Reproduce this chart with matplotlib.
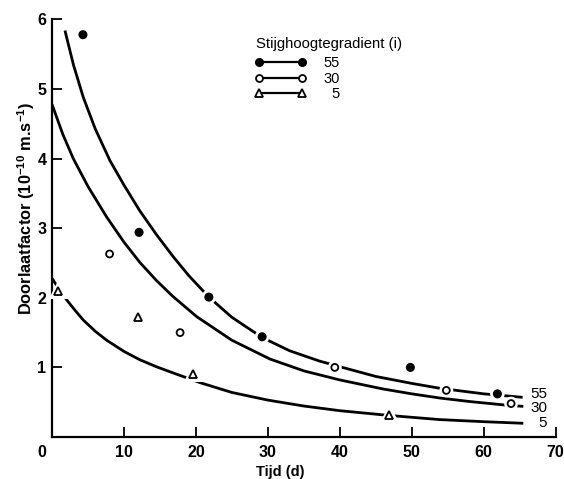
import matplotlib
matplotlib.use("Agg")
import matplotlib.pyplot as plt
from matplotlib.lines import Line2D
from matplotlib.transforms import ScaledTranslation
import matplotlib.patheffects as pe

plt.rcParams['font.family'] = ['Liberation Sans', 'DejaVu Sans']

# Measured points (Tijd in d, Doorlaatfactor in 1e-10 m/s)
t55 = [4.3, 12.1, 21.8, 29.2, 49.8, 61.9]
k55 = [5.78, 2.94, 2.01, 1.44, 1.00, 0.62]
t30 = [8.0, 17.8, 39.3, 54.8, 63.8]
k30 = [2.63, 1.50, 1.00, 0.67, 0.48]
t5 = [0.8, 12.0, 19.6, 46.8]
k5 = [2.10, 1.72, 0.905, 0.31]

# Fitted curves, values
c55_t = [1.8, 3.0, 4.35, 6.0, 8.06, 10.0, 12.2, 14.5, 16.85, 19.0, 21.8, 25.0, 29.2, 33.0,
         37.2, 40.0, 45.0, 50.0, 53.9, 60.0, 65.4]
c55_k = [5.84, 5.34, 4.88, 4.43, 3.97, 3.62, 3.25, 2.91, 2.59, 2.32, 2.01, 1.72, 1.43, 1.24,
         1.09, 1.01, 0.87, 0.77, 0.70, 0.62, 0.57]
c30_t = [0.0, 1.5, 2.96, 5.0, 7.6, 10.0, 12.2, 14.5, 16.8, 20.1, 25.0, 30.3, 35.0, 40.0,
         46.0, 50.0, 53.9, 58.0, 62.9, 65.5]
c30_k = [4.78, 4.35, 4.00, 3.60, 3.16, 2.80, 2.51, 2.25, 2.02, 1.73, 1.39, 1.12, 0.95, 0.82,
         0.69, 0.62, 0.56, 0.51, 0.46, 0.44]
c5_t = [0.0, 1.0, 2.04, 3.2, 4.35, 6.0, 7.6, 10.0, 12.2, 14.5, 16.85, 20.6, 25.0, 30.0,
        35.0, 40.0, 46.8, 53.9, 60.0, 65.5]
c5_k = [2.28, 2.12, 1.97, 1.82, 1.68, 1.52, 1.39, 1.23, 1.11, 1.01, 0.92, 0.78, 0.64, 0.53,
        0.445, 0.378, 0.31, 0.25, 0.22, 0.197]

labels = ['55', '30', '5']
label_y = [0.62, 0.41, 0.20]
xticks = [0, 10, 20, 30, 40, 50, 60, 70]
yticks = [1, 2, 3, 4, 5, 6]

fig = plt.figure(figsize=(5.64, 4.79), dpi=100)
ax = fig.add_axes([52/564, 42/479, 503.7/564, 417.6/479])

lw = 2.0
for ct, ck in [(c55_t, c55_k), (c30_t, c30_k), (c5_t, c5_k)]:
    ax.plot(ct, ck, color='black', lw=lw, solid_capstyle='butt', solid_joinstyle='round', zorder=2)

halo = [pe.Stroke(linewidth=5, foreground='white'), pe.Normal()]
ax.plot(t55, k55, 'o', ms=5.5, mfc='black', mec='black', mew=1.0, zorder=3, path_effects=halo, clip_on=False)
ax.plot(t30, k30, 'o', ms=5.0, mfc='white', mec='black', mew=1.3, zorder=3, path_effects=halo, clip_on=False)
ax.plot(t5, k5, '^', ms=5.8, mfc='white', mec='black', mew=1.3, zorder=3, path_effects=halo, clip_on=False)

# curve end labels
for lab, ly in zip(labels, label_y):
    ax.text(68.8, ly, lab, fontsize=11, ha='right', va='center')

ax.set_xlim(0, 70)
ax.set_ylim(0, 6)
ax.set_xticks(xticks)
ax.set_yticks(yticks)
ax.set_xticklabels([str(v) for v in xticks], fontsize=11.5, fontweight='bold')
ax.set_yticklabels([str(v) for v in yticks], fontsize=11.5, fontweight='bold')
ax.tick_params(axis='x', direction='in', length=7, width=1.3, pad=6)
ax.tick_params(axis='y', direction='in', length=7, width=1.3, pad=4)
for s in ['top', 'right']:
    ax.spines[s].set_visible(False)
for s in ['left', 'bottom']:
    ax.spines[s].set_linewidth(1.6)

# the shared origin label sits left of the corner
zero_lbl = ax.get_xticklabels()[0]
zero_lbl.set_ha('right')
zero_lbl.set_transform(zero_lbl.get_transform() + ScaledTranslation(-4/72, 0, fig.dpi_scale_trans))

ax.set_xlabel('Tijd (d)', fontsize=10.5, fontweight='bold')
ax.xaxis.set_label_coords(0.453, -0.067)
ax.set_ylabel('Doorlaatfactor (10$^{\\mathregular{-10}}$ m.s$^{\\mathregular{-1}}$)', fontsize=11.8,
              fontweight='bold')
ax.yaxis.set_label_coords(-0.030, 0.548)

ax.text(0.405, 0.941, 'Stijghoogtegradient (i)', transform=ax.transAxes, fontsize=10.7,
        ha='left', va='center')

handles = [
    Line2D([], [], color='black', lw=1.6, marker='o', ms=5.5, mfc='black', mec='black'),
    Line2D([], [], color='black', lw=1.6, marker='o', ms=5, mfc='white', mec='black', mew=1.3),
    Line2D([], [], color='black', lw=1.6, marker='^', ms=5.5, mfc='white', mec='black', mew=1.3),
]
leg = ax.legend(handles, ['55', '30', '\u20075'], loc='upper left',
                bbox_to_anchor=(0.402, 0.912), frameon=False, numpoints=2, handlelength=3.55,
                handletextpad=1.2, labelspacing=0.1, fontsize=10.5,
                borderaxespad=0, borderpad=0)

fig.savefig('out.png', dpi=100)
